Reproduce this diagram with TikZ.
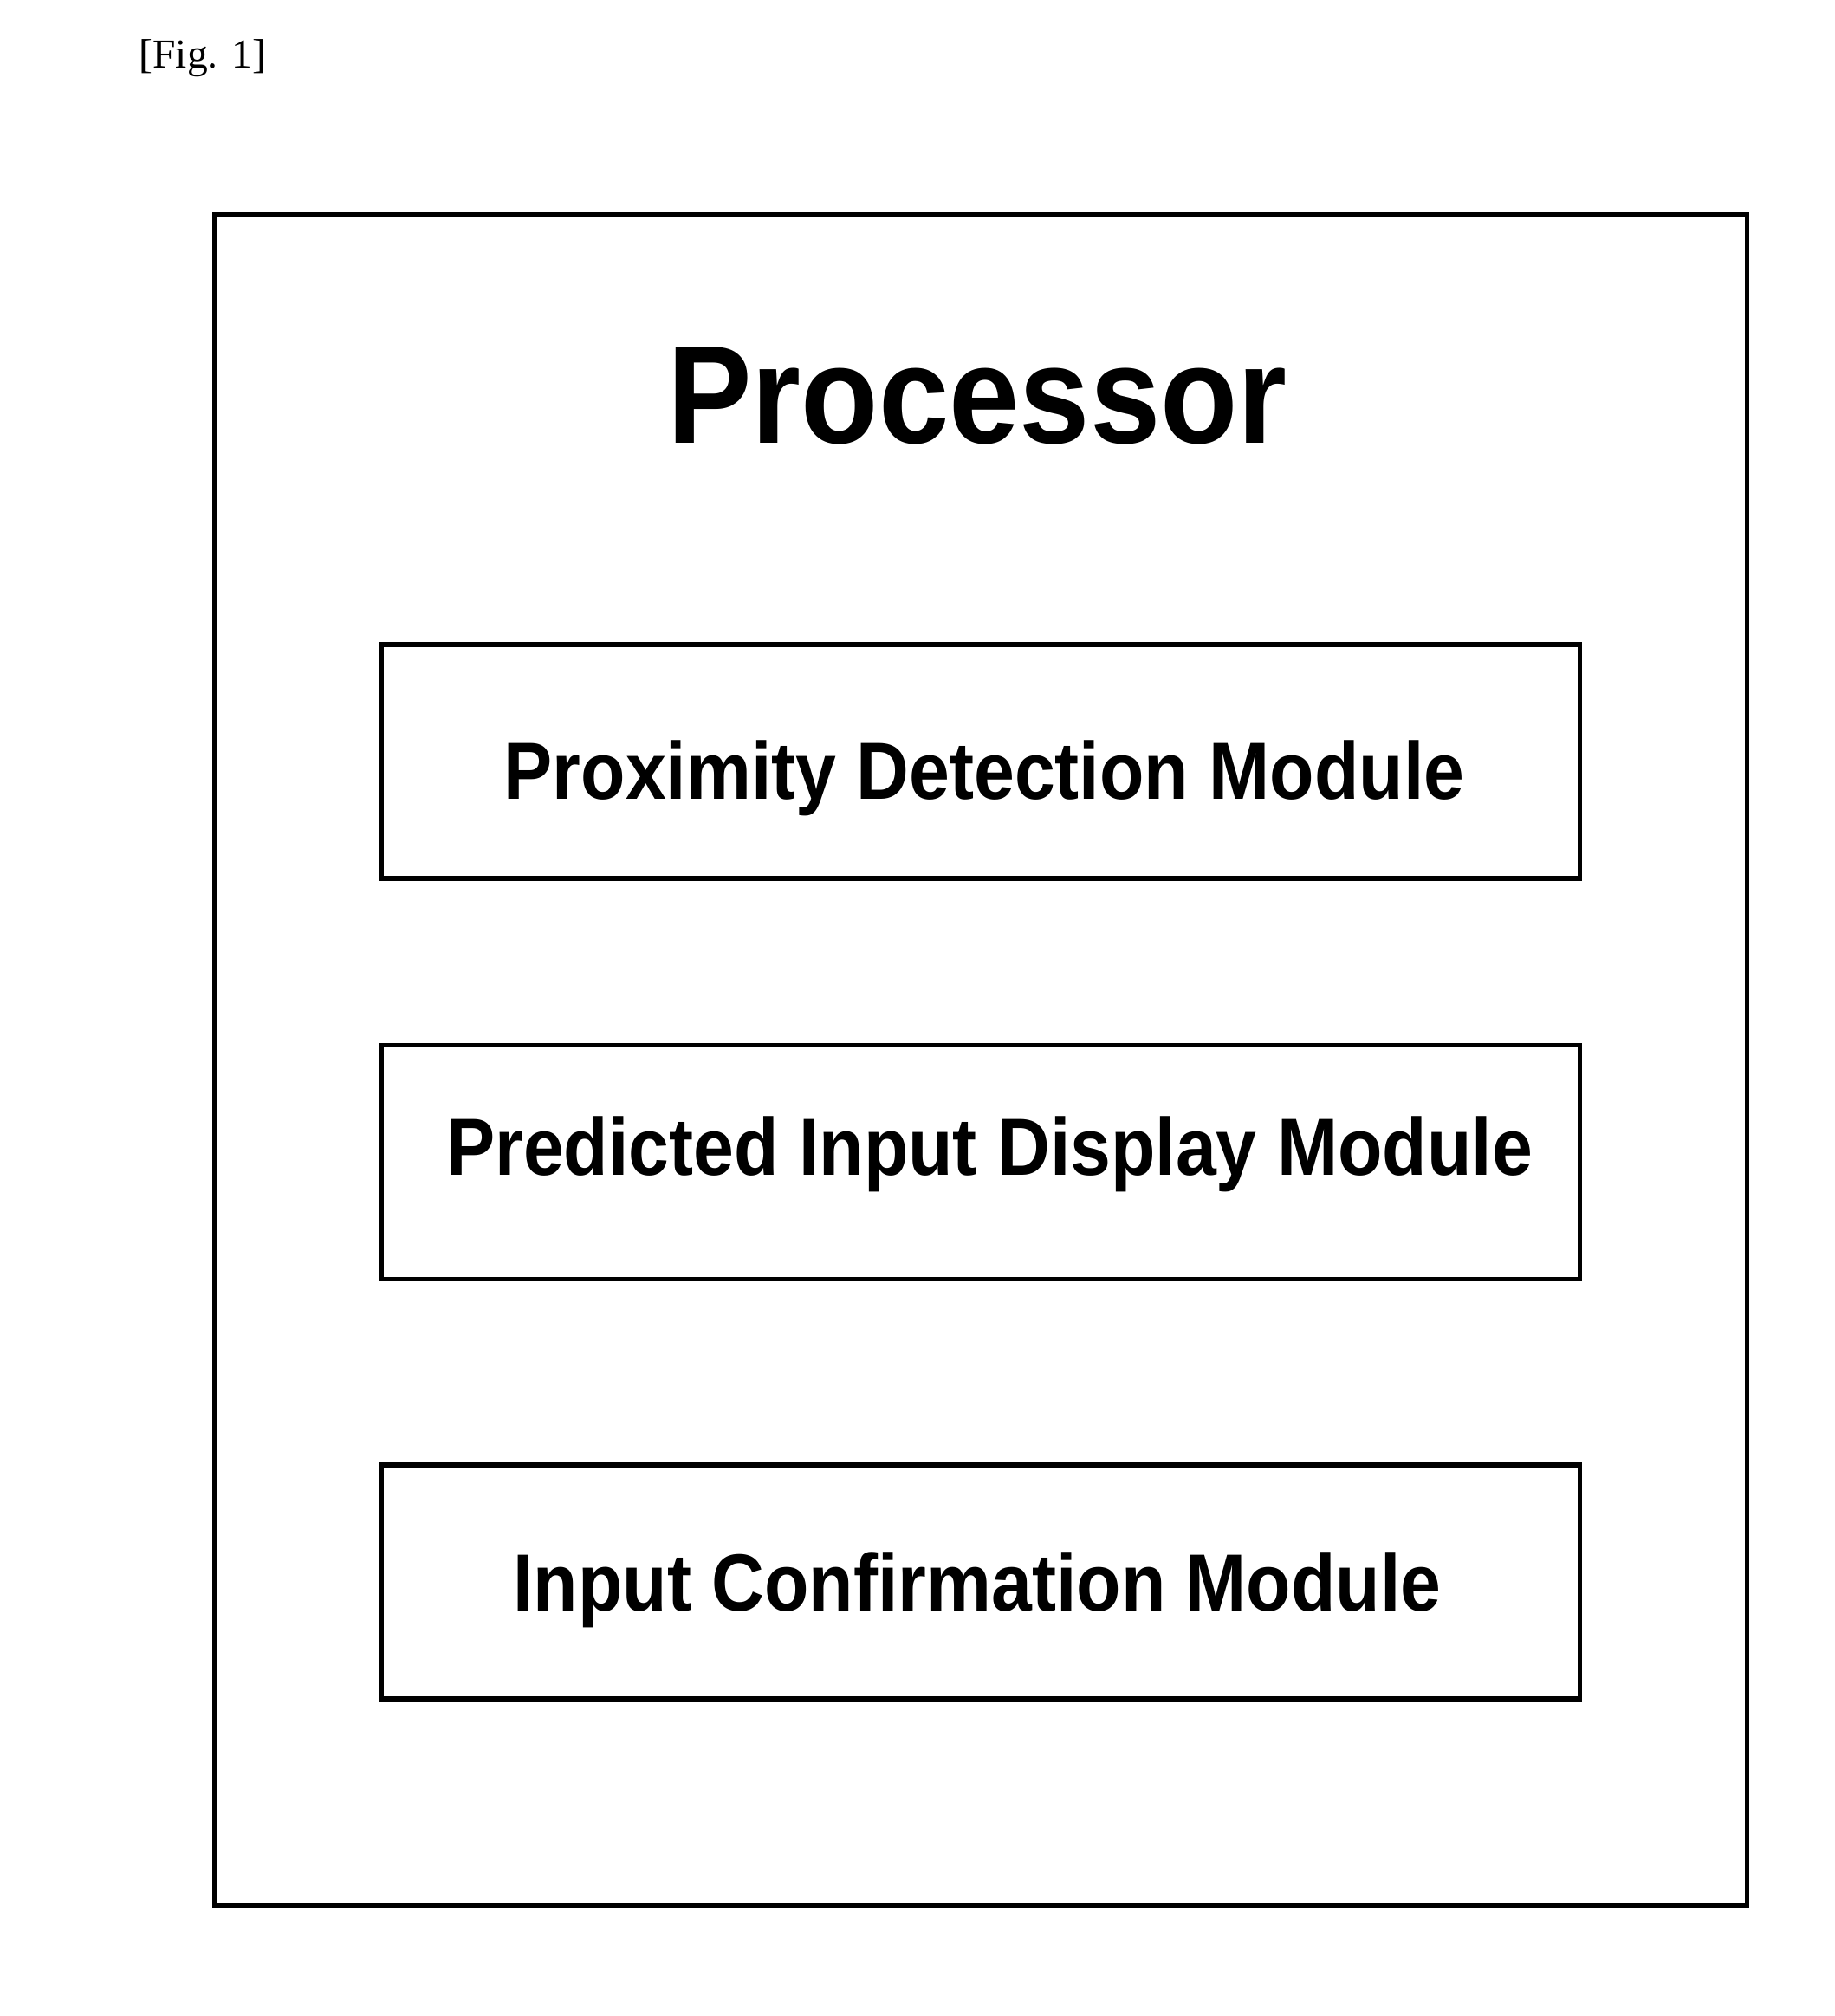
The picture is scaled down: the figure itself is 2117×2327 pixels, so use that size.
\documentclass[tikz,border=0pt]{standalone}
\usepackage{fontspec}
\setmainfont{Liberation Sans}
\newfontfamily\figfont{Liberation Serif}
\begin{document}
\begin{tikzpicture}[x=0.01cm,y=-0.01cm,
  frame/.style={draw=black,line width=1.55pt,rectangle,inner sep=0pt,outer sep=0pt},
  modbox/.style={frame,minimum width=13.82cm,minimum height=2.70cm},
  modtext/.style={anchor=base,inner sep=0pt,font=\fontsize{26.6}{30}\selectfont\bfseries,xscale=0.9},
  proctext/.style={anchor=base,inner sep=0pt,font=\fontsize{45.7}{50}\selectfont\bfseries,xscale=0.91}]
\useasboundingbox (0,0) rectangle (2117,2327);
\node[anchor=base west,inner sep=0pt,font=\figfont\fontsize{13.5}{15}\selectfont] (fig) at (160,78) {[Fig. 1]};
\node[frame,minimum width=17.68cm,minimum height=19.51cm] (outer) at (1132,1223.5) {};
\node[modbox] (b1) at (1132,879) {};
\node[modbox] (b2) at (1132,1341.5) {};
\node[modbox] (b3) at (1132,1826) {};
\node[proctext] (proc) at (1128,511) {Processor};
\node[modtext] (m1) at (1136,922) {Proximity Detection Module};
\node[modtext] (m2) at (1142,1356) {Predicted Input Display Module};
\node[modtext] (m3) at (1128,1859) {Input Confirmation Module};
\end{tikzpicture}
\end{document}
